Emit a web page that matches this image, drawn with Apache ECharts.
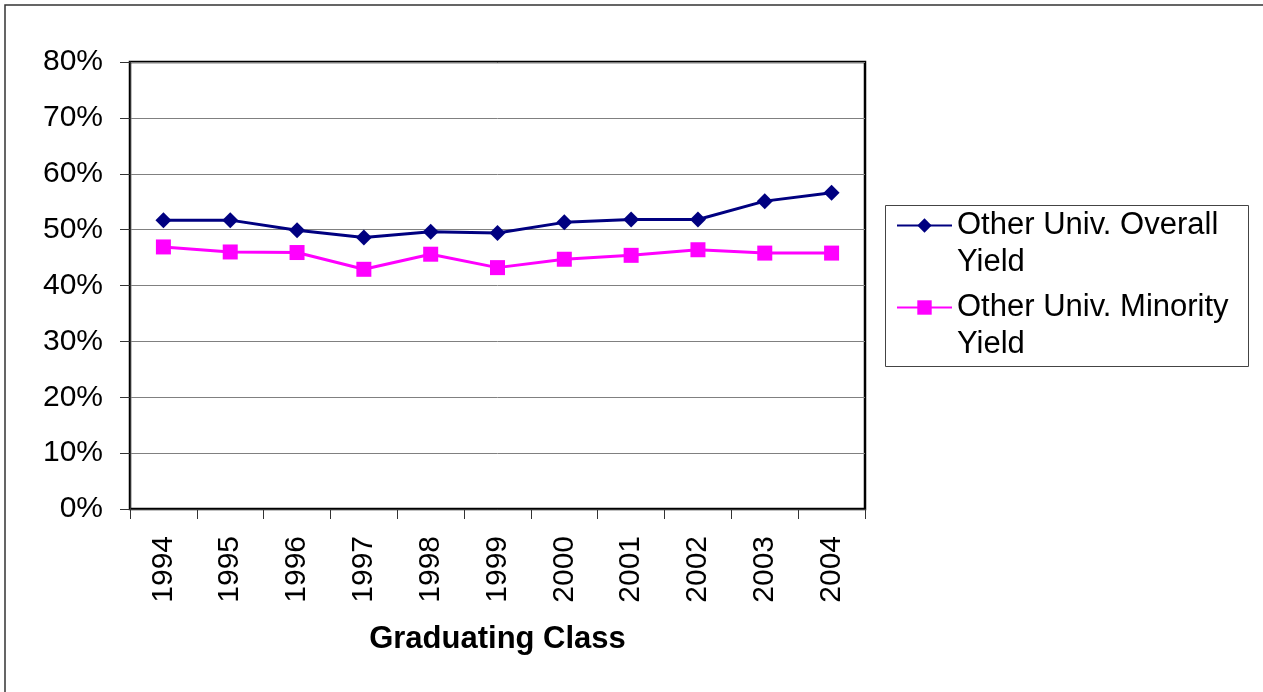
<!DOCTYPE html>
<html>
<head>
<meta charset="utf-8">
<script src="https://cdn.jsdelivr.net/npm/echarts@6/dist/echarts.min.js"></script>
<style>
html,body{margin:0;padding:0;background:#fff;}
#chart{width:1263px;height:692px;}
</style>
</head>
<body>
<div id="chart"></div>
<script>
const categories = ['1994','1995','1996','1997','1998','1999','2000','2001','2002','2003','2004'];
const overallYield = [51.7, 51.7, 49.9, 48.6, 49.6, 49.4, 51.3, 51.8, 51.8, 55.1, 56.6];
const minorityYield = [46.9, 46.0, 45.9, 42.9, 45.6, 43.2, 44.7, 45.4, 46.4, 45.8, 45.8];
const yTicks = {min: 0, max: 80, interval: 10};
const seriesNames = ['Other Univ. Overall Yield', 'Other Univ. Minority Yield'];

const FONT = "'Liberation Sans', Arial, sans-serif";
const chart = echarts.init(document.getElementById('chart'), null, {renderer: 'canvas'});
chart.setOption({
  animation: false,
  backgroundColor: '#fff',
  textStyle: {fontFamily: FONT, color: '#000'},
  grid: {
    left: 130, top: 62, width: 735, height: 447,
    show: true, borderColor: '#000', borderWidth: 2.5, backgroundColor: 'transparent'
  },
  graphic: [
    {type: 'rect', shape: {x: 5, y: 5, width: 1400, height: 800}, style: {fill: 'none', stroke: '#333', lineWidth: 1.5}, z: -1},
    {type: 'rect', shape: {x: 885.5, y: 205.5, width: 363, height: 161}, style: {fill: '#fff', stroke: '#444', lineWidth: 1}, z: 0}
  ],
  legend: {
    orient: 'vertical',
    left: 896, top: 170,
    padding: 0,
    itemGap: -29,
    itemWidth: 55, itemHeight: 18,
    data: seriesNames,
    formatter: function (name) {
      const i = name.lastIndexOf(' ');
      return '\n' + name.slice(0, i) + '\n' + name.slice(i + 1);
    },
    textStyle: {fontFamily: FONT, fontSize: 31, color: '#000', lineHeight: 37},
    z: 5
  },
  xAxis: {
    type: 'category',
    data: categories,
    boundaryGap: true,
    name: 'Graduating Class',
    nameLocation: 'middle',
    nameGap: 115,
    nameTextStyle: {fontFamily: FONT, fontSize: 31, fontWeight: 'bold', color: '#000'},
    axisLine: {show: true, onZero: false, lineStyle: {color: '#333', width: 1}},
    axisTick: {show: true, interval: 0, alignWithLabel: false, length: 10, inside: false, lineStyle: {color: '#333', width: 1}},
    axisLabel: {interval: 0, rotate: 90, margin: 27, fontFamily: FONT, fontSize: 30, color: '#000'},
    splitLine: {show: false}
  },
  yAxis: {
    type: 'value',
    min: yTicks.min, max: yTicks.max, interval: yTicks.interval,
    axisLine: {show: true, lineStyle: {color: '#333', width: 1}},
    axisTick: {show: true, length: 10, lineStyle: {color: '#333', width: 1}},
    axisLabel: {margin: 27, fontFamily: FONT, fontSize: 30, color: '#000', formatter: '{value}%'},
    splitLine: {show: true, lineStyle: {color: '#808080', width: 1}}
  },
  series: [
    {
      name: seriesNames[0], type: 'line', data: overallYield,
      symbol: 'diamond', symbolSize: 16,
      lineStyle: {color: '#000080', width: 3},
      itemStyle: {color: '#000080'},
      z: 3
    },
    {
      name: seriesNames[1], type: 'line', data: minorityYield,
      symbol: 'rect', symbolSize: 15,
      lineStyle: {color: '#FF00FF', width: 3},
      itemStyle: {color: '#FF00FF'},
      z: 3
    }
  ]
});
</script>
</body>
</html>
